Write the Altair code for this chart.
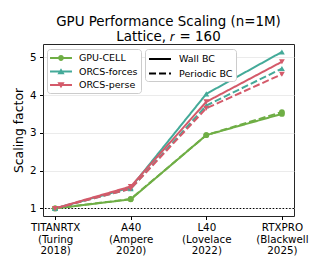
import altair as alt
import pandas as pd

# ---- data ----
gpus = ["TITANRTX", "A40", "L40", "RTXPRO"]
archs = ["(Turing", "(Ampere", "(Lovelace", "(Blackwell"]
years = ["2018)", "2020)", "2022)", "2025)"]

methods = ["GPU-CELL", "ORCS-forces", "ORCS-perse"]
bcs = ["Wall BC", "Periodic BC"]

gpu_cell_wall = [1.0, 1.24, 2.94, 3.50]
gpu_cell_periodic = [1.0, 1.25, 2.94, 3.55]
forces_wall = [1.0, 1.55, 4.03, 5.14]
forces_periodic = [1.0, 1.52, 3.72, 4.70]
perse_wall = [1.0, 1.58, 3.82, 4.88]
perse_periodic = [1.0, 1.52, 3.65, 4.55]

baseline = [1.0]

colors = ["#6fae45", "#44aa99", "#d45a6a"]

# ---- build tables ----
labels = [f"{g}|{a}|{y}" for g, a, y in zip(gpus, archs, years)]
series = {
    ("GPU-CELL", "Wall BC"): gpu_cell_wall,
    ("GPU-CELL", "Periodic BC"): gpu_cell_periodic,
    ("ORCS-forces", "Wall BC"): forces_wall,
    ("ORCS-forces", "Periodic BC"): forces_periodic,
    ("ORCS-perse", "Wall BC"): perse_wall,
    ("ORCS-perse", "Periodic BC"): perse_periodic,
}
rows = []
for (m, b), vals in series.items():
    for lab, v in zip(labels, vals):
        rows.append({"gpu": lab, "method": m, "bc": b, "value": v})
df = pd.DataFrame(rows)
df_base = pd.DataFrame({"y": baseline})

FONT = "DejaVu Sans"

x_enc = alt.X(
    "gpu:N",
    sort=labels,
    scale=alt.Scale(type="point", padding=0.16),
    axis=alt.Axis(
        title=None,
        labelExpr="split(datum.label, '|')",
        labelAngle=0,
        labelAlign="center",
        labelBaseline="top",
        labelLineHeight=11.7,
        labelFontSize=10.3,
        labelPadding=3,
        tickSize=3.5,
        tickColor="black",
        domain=False,
        grid=False,
    ),
)
y_enc = alt.Y(
    "value:Q",
    scale=alt.Scale(domain=[0.8, 5.35], nice=False, zero=False),
    axis=alt.Axis(
        title="Scaling factor",
        titleFontSize=12.4,
        titleFontWeight="normal",
        titlePadding=3.5,
        values=[1, 2, 3, 4, 5],
        format="d",
        labelFontSize=10.3,
        labelPadding=3.5,
        tickSize=3.5,
        tickColor="black",
        domain=False,
        grid=True,
        gridColor="#e6e6e6",
        gridWidth=0.8,
    ),
)

color_scale = alt.Scale(domain=methods, range=colors)

LEG_COMMON = dict(
    title=None,
    orient="none",
    labelFontSize=9.5,
    labelFont=FONT,
    labelColor="black",
    padding=3,
    rowPadding=2.5,
    symbolOffset=5,
    labelOffset=12,
    symbolSize=144,
    cornerRadius=3,
    fillColor="white",
    strokeColor="#cccccc",
)

# custom legend symbols: line + marker
leg_paths = [
    "M-1.83,-0.17L1.83,-0.17L1.83,0.17L-1.83,0.17Z M-0.48,0A0.48,0.48,0,1,1,0.48,0A0.48,0.48,0,1,1,-0.48,0Z",
    "M-1.83,-0.17L1.83,-0.17L1.83,0.17L-1.83,0.17Z M0,-0.55L0.6,0.45L-0.6,0.45Z",
    "M-1.83,-0.17L1.83,-0.17L1.83,0.17L-1.83,0.17Z M-0.6,-0.45L0.6,-0.45L0,0.55Z",
]

base = alt.Chart(df)

lines = base.mark_line(strokeWidth=2).encode(
    x=x_enc,
    y=y_enc,
    color=alt.Color("method:N", scale=color_scale, legend=None),
    strokeDash=alt.StrokeDash(
        "bc:N",
        scale=alt.Scale(domain=bcs, range=[[1, 0], [7, 3]]),
        legend=alt.Legend(
            legendX=102,
            legendY=5,
            symbolType="M-1.83,0L1.83,0",
            symbolStrokeColor="black",
            symbolStrokeWidth=2,
            symbolFillColor="transparent",
            **LEG_COMMON,
        ),
    ),
    detail="bc:N",
)

points = base.mark_point(filled=True, opacity=1, size=34).encode(
    x=x_enc,
    y=y_enc,
    color=alt.Color("method:N", scale=color_scale, legend=None),
    shape=alt.Shape(
        "method:N",
        scale=alt.Scale(domain=methods, range=["circle", "triangle-up", "triangle-down"]),
        legend=None,
    ),
)

legend_layer = base.mark_point(filled=True, opacity=0, size=144).encode(
    x=x_enc,
    y=y_enc,
    color=alt.Color(
        "method:N",
        scale=color_scale,
        legend=alt.Legend(legendX=4, legendY=5, symbolOpacity=1, symbolStrokeWidth=0, **LEG_COMMON),
    ),
    shape=alt.Shape(
        "method:N",
        scale=alt.Scale(domain=methods, range=leg_paths),
        legend=alt.Legend(legendX=4, legendY=5, symbolOpacity=1, symbolStrokeWidth=0, **LEG_COMMON),
    ),
)

rule = alt.Chart(df_base).mark_rule(color="black", strokeWidth=1.1, strokeDash=[1.5, 1.8]).encode(
    y=alt.Y("y:Q")
)

chart = (
    alt.layer(rule, lines, points, legend_layer)
    .resolve_scale(color="independent", shape="independent")
    .properties(
        width=251,
        height=172,
        padding={"left": 4, "top": 6, "right": 5, "bottom": 5},
        title=alt.TitleParams(
            text=["GPU Performance Scaling (n=1M)", "Lattice, 𝑟 = 160"],
            fontSize=13.4,
            font=FONT,
            fontWeight="normal",
            anchor="middle",
            offset=1,
            lineHeight=15,
            color="black",
        ),
    )
    .configure(font=FONT)
    .configure_view(stroke="#262626", strokeWidth=1)
    .configure_axis(labelColor="black", titleColor="black", labelFont=FONT, titleFont=FONT)
)

chart.save("out.html", embed_options={"renderer": "svg", "actions": False})
